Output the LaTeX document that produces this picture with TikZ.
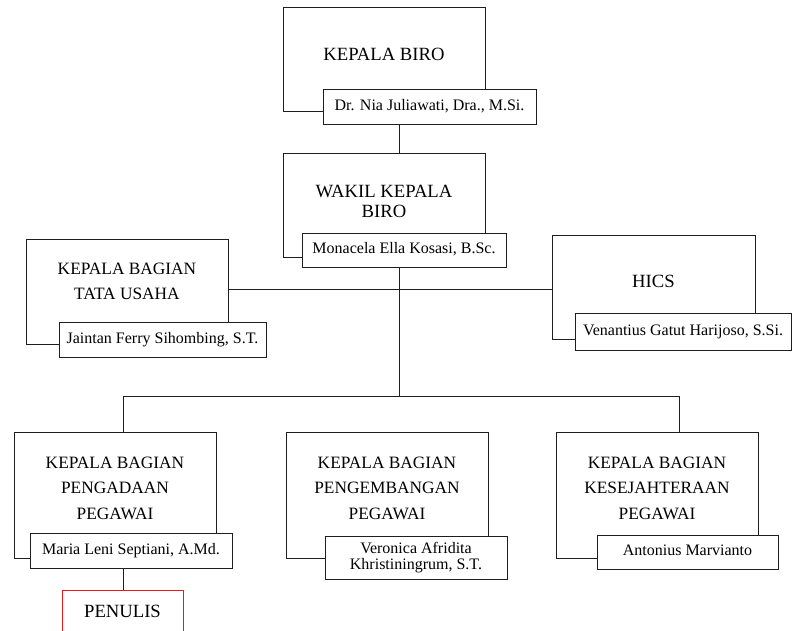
\documentclass[tikz,border=0pt]{standalone}
\usepackage{fontspec}
\setmainfont{Liberation Serif}
\usepackage{tikz}
\definecolor{orgline}{RGB}{30,30,30}
\definecolor{orgred}{RGB}{235,25,25}

\begin{document}
\begin{tikzpicture}[x=0.75pt, y=-0.75pt,
  unitbox/.style={draw=orgline, line width=0.6pt, inner sep=0pt, minimum width=151.5pt},
  namebox/.style={draw=orgline, line width=0.6pt, fill=white, inner sep=0pt,
    font=\fontsize{12pt}{12pt}\selectfont, text height=8.4pt, text depth=3pt},
  titletext/.style={align=center, font=\fontsize{13pt}{19pt}\selectfont},
  toptext/.style={align=center, font=\fontsize{14pt}{15pt}\selectfont},
  orgedge/.style={draw=orgline, line width=0.6pt}]
\useasboundingbox (0,0) rectangle (792,631);
\clip (0,0) rectangle (792,631);

% Kepala Biro
\node[unitbox, minimum height=78pt] (biro) at (384,59) {};
\node[toptext] (birotitle) at ([yshift=3.75pt]biro.center) {KEPALA BIRO};
\node[namebox, minimum width=159.75pt, minimum height=26.25pt] (bironame) at (429.5,106.5) {Dr. Nia Juliawati, Dra., M.Si.};

% Wakil Kepala Biro
\node[unitbox, minimum height=78pt] (wakil) at (384,205) {};
\node[toptext] (wakiltitle) at ([yshift=2.75pt]wakil.center) {WAKIL KEPALA\\BIRO};
\node[namebox, minimum width=153pt, minimum height=25.5pt] (wakilname) at (404,250) {Monacela Ella Kosasi, B.Sc.};

% Tata Usaha and HICS
\node[unitbox, minimum height=78.75pt] (tatausaha) at (127,291.5) {};
\node[titletext, font=\fontsize{13pt}{18.75pt}\selectfont] (tatatitle) at ([yshift=7.5pt]tatausaha.center) {KEPALA BAGIAN\\TATA USAHA};
\node[namebox, minimum width=155.25pt, minimum height=26.25pt] (tataname) at (162.5,339.5) {Jaintan Ferry Sihombing, S.T.};

\node[unitbox, minimum width=152.25pt, minimum height=78pt] (hics) at (653.5,287) {};
\node[toptext] (hicstitle) at ([yshift=4.5pt]hics.center) {HICS};
\node[namebox, minimum width=162pt, minimum height=27.75pt] (hicsname) at (683,331.5) {Venantius Gatut Harijoso, S.Si.};

% Bagian di bawah
\node[unitbox, minimum height=94.5pt] (pengadaan) at (115,495) {};
\node[titletext] (pengadaantitle) at ([yshift=5pt]pengadaan.center) {KEPALA BAGIAN\\PENGADAAN\\PEGAWAI};
\node[namebox, minimum width=151.5pt, minimum height=26.25pt] (pengadaanname) at (131,550.5) {Maria Leni Septiani, A.Md.};

\node[unitbox, minimum height=94.5pt] (pengembangan) at (387,495) {};
\node[titletext] (pengembangantitle) at ([yshift=5pt]pengembangan.center) {KEPALA BAGIAN\\PENGEMBANGAN\\PEGAWAI};
\node[namebox, minimum width=136.5pt, minimum height=32.25pt, align=center,
  text height=, text depth=] (pengembanganname) at (416,557.5) {Veronica Afridita\\Khristiningrum, S.T.};

\node[unitbox, minimum height=94.5pt] (kesejahteraan) at (657,495) {};
\node[titletext] (kesejahteraantitle) at ([yshift=5pt]kesejahteraan.center) {KEPALA BAGIAN\\KESEJAHTERAAN\\PEGAWAI};
\node[namebox, minimum width=135.75pt, minimum height=25.5pt] (kesejahteraanname) at (687.5,552) {Antonius Marvianto};

% Penulis
\node[draw=orgred, line width=0.6pt, inner sep=0pt, font=\fontsize{14pt}{15pt}\selectfont,
  minimum width=90.75pt, minimum height=31.875pt] (penulis) at (122.5,611.25) {PENULIS};

% Garis
\coordinate (trunk) at (399,0);
\coordinate (midrow) at (399,289);
\coordinate (busC) at (399,396.5);
\coordinate (busL) at (123,396.5);
\coordinate (busR) at (679,396.5);
\draw[orgedge] (bironame.south -| trunk) -- (wakil.north -| trunk);
\draw[orgedge] (wakilname.south -| trunk) -- (busC);
\draw[orgedge] (tatausaha.east |- midrow) -- (hics.west |- midrow);
\draw[orgedge] (busL |- pengadaan.north) -- (busL) -- (busR) -- (busR |- kesejahteraan.north);
\draw[orgedge] (pengadaanname.south -| busL) -- (penulis.north -| busL);
\end{tikzpicture}
\end{document}
